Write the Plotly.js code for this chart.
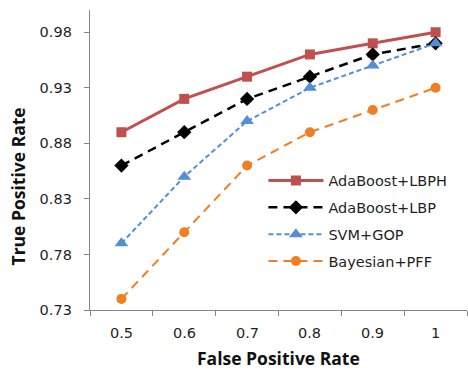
<!DOCTYPE html>
<html>
<head>
<meta charset="utf-8">
<script src="https://cdn.plot.ly/plotly-3.0.1.min.js"></script>
<style>
  html, body { margin: 0; padding: 0; background: #fff; }
  #chart { width: 468px; height: 369px; }
</style>
</head>
<body>
<div id="chart"></div>
<script>
// False positive rate categories along the x axis
const fprLabels = ['0.5', '0.6', '0.7', '0.8', '0.9', '1'];

// True positive rate for each method
const adaboostLbph = [0.89, 0.92, 0.94, 0.96, 0.97, 0.98];
const adaboostLbp = [0.86, 0.89, 0.92, 0.94, 0.96, 0.97];
const svmGop = [0.79, 0.85, 0.90, 0.93, 0.95, 0.97];
const bayesianPff = [0.74, 0.80, 0.86, 0.89, 0.91, 0.93];

const yTicks = [0.73, 0.78, 0.83, 0.88, 0.93, 0.98];

const traces = [
  {
    name: 'AdaBoost+LBPH', legendgroup: 'a', x: fprLabels, y: adaboostLbph, mode: 'lines+markers',
    line: { color: '#C0504D', width: 3 },
    marker: { symbol: 'square', size: 10, color: '#C0504D' }
  },
  {
    name: 'AdaBoost+LBP', legendgroup: 'b', x: fprLabels, y: adaboostLbp, mode: 'lines+markers',
    line: { color: '#000000', width: 2.5, dash: '9px,6px' },
    marker: { symbol: 'diamond', size: 11, color: '#000000' }
  },
  {
    name: 'SVM+GOP', legendgroup: 'c', x: fprLabels, y: svmGop, mode: 'lines+markers',
    line: { color: '#558ED5', width: 2, dash: '5px,3px' },
    marker: { symbol: 'triangle-up', size: 12, color: '#558ED5' }
  },
  {
    name: 'Bayesian+PFF', legendgroup: 'd', x: fprLabels, y: bayesianPff, mode: 'lines+markers',
    line: { color: '#F07F22', width: 2, dash: '9px,6px' },
    marker: { symbol: 'circle', size: 10, color: '#F07F22' }
  }
];

const textColor = '#1f1f1f';
const tickFont = { family: 'DejaVu Sans, Verdana, sans-serif', size: 14.5, color: textColor };
const titleFont = { family: 'Open Sans, Calibri, sans-serif', size: 17.5, color: '#111111', weight: 'bold' };

// category labels sit a little further below the axis than the default placement;
// on a category axis an annotation's x is the category index
const xLabelAnnotations = fprLabels.map((label, i) => ({
  text: label, xref: 'x', yref: 'paper',
  x: i, y: -0.077, xanchor: 'center', yanchor: 'middle',
  showarrow: false, font: tickFont
}));

const layout = {
  width: 468,
  height: 369,
  margin: { l: 90, r: 1, t: 10, b: 59 },
  paper_bgcolor: '#ffffff',
  plot_bgcolor: '#ffffff',
  showlegend: true,
  legend: {
    x: 0.46, y: 0.485, xanchor: 'left', yanchor: 'top',
    bgcolor: 'rgba(0,0,0,0)',
    font: { family: 'DejaVu Sans, Verdana, sans-serif', size: 14.5, color: textColor },
    itemwidth: 55,
    tracegroupgap: 5
  },
  xaxis: {
    type: 'category',
    range: [-0.5, 5.5],
    showgrid: false,
    showline: true,
    linecolor: '#868686',
    linewidth: 1,
    ticks: 'outside',
    tickson: 'boundaries',
    ticklen: 5,
    tickcolor: '#868686',
    showticklabels: false,
    zeroline: false
  },
  yaxis: {
    range: [0.73, 1.0],
    tickvals: yTicks,
    // trailing no-break spaces leave a gap between the labels and the tick marks
    ticktext: yTicks.map(v => v.toFixed(2) + '\u00a0\u00a0'),
    showgrid: false,
    showline: true,
    linecolor: '#868686',
    linewidth: 1,
    ticks: 'outside',
    ticklen: 5,
    tickcolor: '#868686',
    tickfont: tickFont,
    zeroline: false
  },
  annotations: xLabelAnnotations.concat([
    {
      text: 'False Positive Rate', xref: 'paper', yref: 'paper',
      x: 0.5, y: -0.16, xanchor: 'center', yanchor: 'middle',
      showarrow: false, font: titleFont
    },
    {
      text: 'True Positive Rate', xref: 'paper', yref: 'paper',
      x: -0.19, y: 0.413, xanchor: 'center', yanchor: 'middle',
      textangle: -90, showarrow: false, font: titleFont
    }
  ])
};

Plotly.newPlot('chart', traces, layout, { displayModeBar: false, staticPlot: true });
</script>
</body>
</html>
